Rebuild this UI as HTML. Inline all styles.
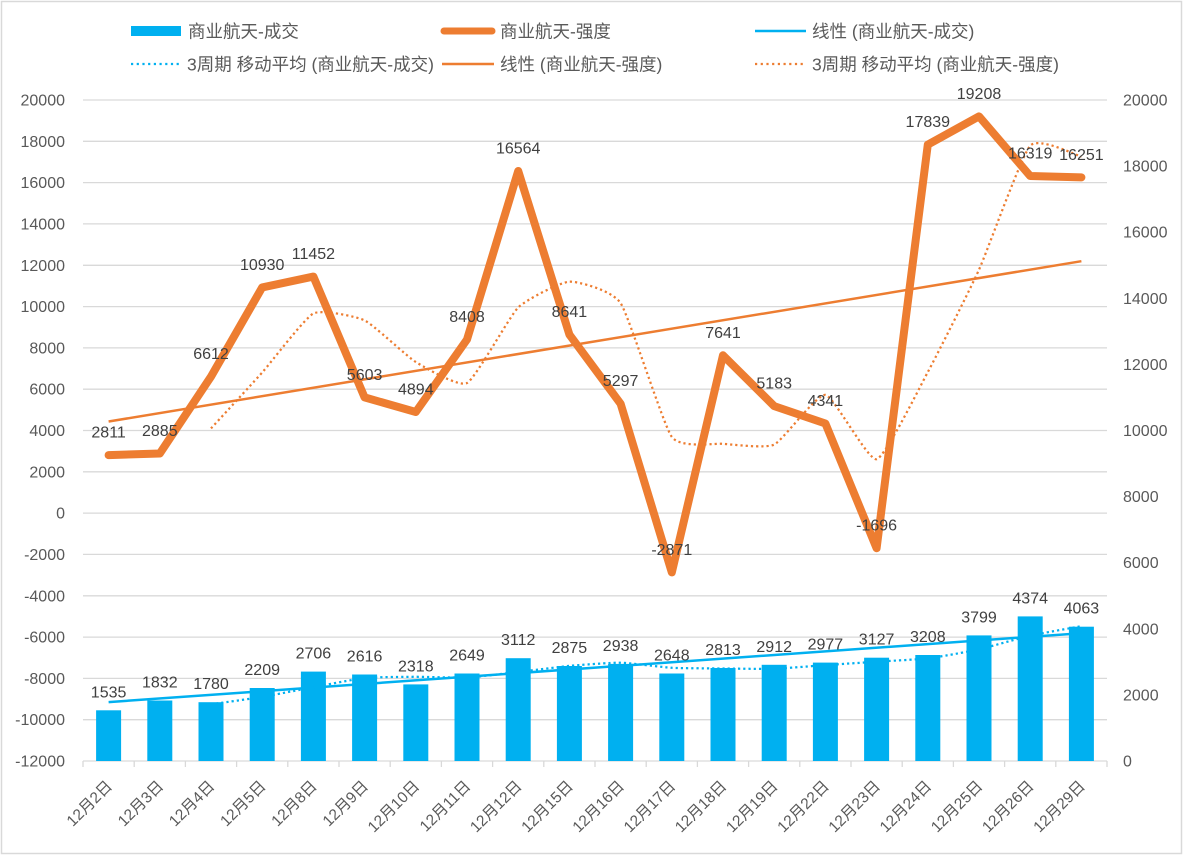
<!DOCTYPE html>
<html><head><meta charset="utf-8"><style>
html,body{margin:0;padding:0;background:#fff;}
svg{display:block;}
.ax{font-family:"Liberation Sans","Noto Sans CJK SC",sans-serif;font-size:16px;fill:#595959;}
.dl{font-family:"Liberation Sans","Noto Sans CJK SC",sans-serif;font-size:16px;fill:#404040;text-anchor:middle;}
.lg{font-family:"Liberation Sans","Noto Sans CJK SC",sans-serif;font-size:17.5px;fill:#595959;}
.xl{font-family:"Liberation Sans","Noto Sans CJK SC",sans-serif;font-size:15.5px;fill:#595959;text-anchor:end;}
</style></head><body>
<svg width="1184" height="856" viewBox="0 0 1184 856" xmlns="http://www.w3.org/2000/svg">
<rect x="0" y="0" width="1184" height="856" fill="#fff"/>
<rect x="1.5" y="1.5" width="1180" height="852" fill="none" stroke="#d9d9d9" stroke-width="1.5"/>

<!-- gridlines -->
<g stroke="#d9d9d9" stroke-width="1.3">
<line x1="83" x2="1107" y1="100" y2="100"/>
<line x1="83" x2="1107" y1="141.3" y2="141.3"/>
<line x1="83" x2="1107" y1="182.6" y2="182.6"/>
<line x1="83" x2="1107" y1="223.9" y2="223.9"/>
<line x1="83" x2="1107" y1="265.3" y2="265.3"/>
<line x1="83" x2="1107" y1="306.6" y2="306.6"/>
<line x1="83" x2="1107" y1="347.9" y2="347.9"/>
<line x1="83" x2="1107" y1="389.2" y2="389.2"/>
<line x1="83" x2="1107" y1="430.5" y2="430.5"/>
<line x1="83" x2="1107" y1="471.8" y2="471.8"/>
<line x1="83" x2="1107" y1="513.1" y2="513.1"/>
<line x1="83" x2="1107" y1="554.4" y2="554.4"/>
<line x1="83" x2="1107" y1="595.8" y2="595.8"/>
<line x1="83" x2="1107" y1="637.1" y2="637.1"/>
<line x1="83" x2="1107" y1="678.4" y2="678.4"/>
<line x1="83" x2="1107" y1="719.7" y2="719.7"/>
<line x1="83" x2="1107" y1="761" y2="761"/>
<line x1="83" x2="83" y1="761" y2="767"/>
<line x1="134.2" x2="134.2" y1="761" y2="767"/>
<line x1="185.4" x2="185.4" y1="761" y2="767"/>
<line x1="236.6" x2="236.6" y1="761" y2="767"/>
<line x1="287.8" x2="287.8" y1="761" y2="767"/>
<line x1="339" x2="339" y1="761" y2="767"/>
<line x1="390.2" x2="390.2" y1="761" y2="767"/>
<line x1="441.4" x2="441.4" y1="761" y2="767"/>
<line x1="492.6" x2="492.6" y1="761" y2="767"/>
<line x1="543.8" x2="543.8" y1="761" y2="767"/>
<line x1="595" x2="595" y1="761" y2="767"/>
<line x1="646.2" x2="646.2" y1="761" y2="767"/>
<line x1="697.4" x2="697.4" y1="761" y2="767"/>
<line x1="748.6" x2="748.6" y1="761" y2="767"/>
<line x1="799.8" x2="799.8" y1="761" y2="767"/>
<line x1="851" x2="851" y1="761" y2="767"/>
<line x1="902.2" x2="902.2" y1="761" y2="767"/>
<line x1="953.4" x2="953.4" y1="761" y2="767"/>
<line x1="1004.6" x2="1004.6" y1="761" y2="767"/>
<line x1="1055.8" x2="1055.8" y1="761" y2="767"/>
<line x1="1107" x2="1107" y1="761" y2="767"/>
</g>

<!-- left axis labels -->
<g class="ax" text-anchor="end">
<text x="65" y="105.5">20000</text>
<text x="65" y="146.8">18000</text>
<text x="65" y="188.1">16000</text>
<text x="65" y="229.4">14000</text>
<text x="65" y="270.8">12000</text>
<text x="65" y="312.1">10000</text>
<text x="65" y="353.4">8000</text>
<text x="65" y="394.7">6000</text>
<text x="65" y="436">4000</text>
<text x="65" y="477.3">2000</text>
<text x="65" y="518.6">0</text>
<text x="65" y="559.9">-2000</text>
<text x="65" y="601.3">-4000</text>
<text x="65" y="642.6">-6000</text>
<text x="65" y="683.9">-8000</text>
<text x="65" y="725.2">-10000</text>
<text x="65" y="766.5">-12000</text>
</g>
<!-- right axis labels -->
<g class="ax" text-anchor="start">
<text x="1123" y="105.5">20000</text>
<text x="1123" y="171.6">18000</text>
<text x="1123" y="237.7">16000</text>
<text x="1123" y="303.8">14000</text>
<text x="1123" y="369.9">12000</text>
<text x="1123" y="436">10000</text>
<text x="1123" y="502.1">8000</text>
<text x="1123" y="568.2">6000</text>
<text x="1123" y="634.3">4000</text>
<text x="1123" y="700.4">2000</text>
<text x="1123" y="766.5">0</text>
</g>

<!-- bars -->
<g fill="#00b0f0">
<rect x="96.1" y="710.3" width="25" height="50.7"/>
<rect x="147.3" y="700.5" width="25" height="60.5"/>
<rect x="198.5" y="702.2" width="25" height="58.8"/>
<rect x="249.7" y="688" width="25" height="73"/>
<rect x="300.9" y="671.6" width="25" height="89.4"/>
<rect x="352.1" y="674.5" width="25" height="86.5"/>
<rect x="403.3" y="684.4" width="25" height="76.6"/>
<rect x="454.5" y="673.5" width="25" height="87.5"/>
<rect x="505.7" y="658.2" width="25" height="102.8"/>
<rect x="556.9" y="666" width="25" height="95"/>
<rect x="608.1" y="663.9" width="25" height="97.1"/>
<rect x="659.3" y="673.5" width="25" height="87.5"/>
<rect x="710.5" y="668" width="25" height="93"/>
<rect x="761.7" y="664.8" width="25" height="96.2"/>
<rect x="812.9" y="662.6" width="25" height="98.4"/>
<rect x="864.1" y="657.7" width="25" height="103.3"/>
<rect x="915.3" y="655" width="25" height="106"/>
<rect x="966.5" y="635.4" width="25" height="125.6"/>
<rect x="1017.7" y="616.4" width="25" height="144.6"/>
<rect x="1068.9" y="626.7" width="25" height="134.3"/>
</g>

<!-- blue trend -->
<line x1="108.6" y1="702.1" x2="1081.4" y2="633.2" stroke="#00b0f0" stroke-width="2.5"/>
<!-- blue MA (smoothed) -->
<path fill="none" stroke="#00b0f0" stroke-width="2.25" stroke-dasharray="2.2 3"
d="M211,704.3 C215.3,703.7 253.7,698.3 262.2,696.9 C270.7,695.5 304.9,688.8 313.4,687.2 C321.9,685.6 356.1,678.9 364.6,678 C373.1,677.1 407.3,676.8 415.8,676.8 C424.3,676.8 458.5,677.9 467,677.5 C475.5,677.1 509.7,673 518.2,672 C526.7,671 560.9,666.7 569.4,665.9 C577.9,665.1 612.1,662.5 620.6,662.7 C629.1,662.9 663.3,667.3 671.8,667.8 C680.3,668.3 714.5,668.4 723,668.5 C731.5,668.6 765.7,669.1 774.2,668.8 C782.7,668.5 816.9,665.7 825.4,665.1 C833.9,664.5 868.1,662.3 876.6,661.7 C885.1,661.1 919.3,659.4 927.8,658.4 C936.3,657.4 970.5,651.3 979,649.4 C987.5,647.5 1021.7,637.5 1030.2,635.6 C1038.7,633.7 1077.1,627 1081.4,626.2"/>

<!-- orange main line -->
<polyline fill="none" stroke="#ed7d31" stroke-width="8" stroke-linejoin="round" stroke-linecap="round"
points="108.6,455.1 159.8,453.5 211,376.6 262.2,287.4 313.4,276.6 364.6,397.4 415.8,412 467,339.5 518.2,171 569.4,334.6 620.6,403.7 671.8,572.4 723,355.3 774.2,406.1 825.4,423.5 876.6,548.2 927.8,144.6 979,116.4 1030.2,176 1081.4,177.4"/>
<!-- orange trend -->
<line x1="108.6" y1="421.5" x2="1081.4" y2="261.2" stroke="#ed7d31" stroke-width="2.5"/>
<!-- orange MA (smoothed) -->
<path fill="none" stroke="#ed7d31" stroke-width="2.25" stroke-dasharray="2.2 3"
d="M211,428.4 C215.3,423.7 253.7,382.1 262.2,372.5 C270.7,362.9 304.9,317.8 313.4,313.5 C321.9,309.2 356.1,316.4 364.6,320.4 C373.1,324.4 407.3,356.8 415.8,362 C424.3,367.2 458.5,387.5 467,383 C475.5,378.5 509.7,315.9 518.2,307.5 C526.7,299.1 560.9,282.1 569.4,281.7 C577.9,281.3 612.1,290.2 620.6,303.1 C629.1,316 663.3,425.2 671.8,436.9 C680.3,448.6 714.5,443.2 723,443.8 C731.5,444.4 765.7,448.7 774.2,444.6 C782.7,440.5 816.9,393.7 825.4,394.9 C833.9,396.1 868.1,461.1 876.6,459.2 C885.1,457.3 919.3,387.9 927.8,372.1 C936.3,356.3 970.5,288.6 979,269.7 C987.5,250.8 1021.7,155.1 1030.2,145.7 C1038.7,136.3 1077.1,155.7 1081.4,156.6"/>

<!-- orange data labels -->
<g class="dl">
<text x="108.6" y="437.6">2811</text>
<text x="159.8" y="436">2885</text>
<text x="211" y="359">6612</text>
<text x="262.2" y="269.9">10930</text>
<text x="313.4" y="259.1">11452</text>
<text x="364.6" y="379.9">5603</text>
<text x="415.8" y="394.5">4894</text>
<text x="467" y="322">8408</text>
<text x="518.2" y="153.5">16564</text>
<text x="569.4" y="317.1">8641</text>
<text x="620.6" y="386.2">5297</text>
<text x="671.8" y="554.9">-2871</text>
<text x="723" y="337.8">7641</text>
<text x="774.2" y="388.6">5183</text>
<text x="825.4" y="406">4341</text>
<text x="876.6" y="530.7">-1696</text>
<text x="927.8" y="127.1">17839</text>
<text x="979" y="98.9">19208</text>
<text x="1030.2" y="158.5">16319</text>
<text x="1081.4" y="159.9">16251</text>
</g>
<!-- bar data labels -->
<g class="dl">
<text x="108.6" y="697.3">1535</text>
<text x="159.8" y="687.5">1832</text>
<text x="211" y="689.2">1780</text>
<text x="262.2" y="675">2209</text>
<text x="313.4" y="658.6">2706</text>
<text x="364.6" y="661.5">2616</text>
<text x="415.8" y="671.4">2318</text>
<text x="467" y="660.5">2649</text>
<text x="518.2" y="645.2">3112</text>
<text x="569.4" y="653">2875</text>
<text x="620.6" y="650.9">2938</text>
<text x="671.8" y="660.5">2648</text>
<text x="723" y="655">2813</text>
<text x="774.2" y="651.8">2912</text>
<text x="825.4" y="649.6">2977</text>
<text x="876.6" y="644.7">3127</text>
<text x="927.8" y="642">3208</text>
<text x="979" y="622.4">3799</text>
<text x="1030.2" y="603.4">4374</text>
<text x="1081.4" y="613.7">4063</text>
</g>

<!-- x labels -->
<g class="xl">
<text transform="translate(113.1,787) rotate(-45)">12月2日</text>
<text transform="translate(164.3,787) rotate(-45)">12月3日</text>
<text transform="translate(215.5,787) rotate(-45)">12月4日</text>
<text transform="translate(266.7,787) rotate(-45)">12月5日</text>
<text transform="translate(317.9,787) rotate(-45)">12月8日</text>
<text transform="translate(369.1,787) rotate(-45)">12月9日</text>
<text transform="translate(420.3,787) rotate(-45)">12月10日</text>
<text transform="translate(471.5,787) rotate(-45)">12月11日</text>
<text transform="translate(522.7,787) rotate(-45)">12月12日</text>
<text transform="translate(573.9,787) rotate(-45)">12月15日</text>
<text transform="translate(625.1,787) rotate(-45)">12月16日</text>
<text transform="translate(676.3,787) rotate(-45)">12月17日</text>
<text transform="translate(727.5,787) rotate(-45)">12月18日</text>
<text transform="translate(778.7,787) rotate(-45)">12月19日</text>
<text transform="translate(829.9,787) rotate(-45)">12月22日</text>
<text transform="translate(881.1,787) rotate(-45)">12月23日</text>
<text transform="translate(932.3,787) rotate(-45)">12月24日</text>
<text transform="translate(983.5,787) rotate(-45)">12月25日</text>
<text transform="translate(1034.7,787) rotate(-45)">12月26日</text>
<text transform="translate(1085.9,787) rotate(-45)">12月29日</text>
</g>

<!-- legend -->
<rect x="131" y="26" width="50" height="10" fill="#00b0f0"/>
<text class="lg" x="188" y="37.3">商业航天-成交</text>
<line x1="444" y1="31" x2="492" y2="31" stroke="#ed7d31" stroke-width="7" stroke-linecap="round"/>
<text class="lg" x="500" y="37.3">商业航天-强度</text>
<line x1="755" y1="31" x2="806" y2="31" stroke="#00b0f0" stroke-width="2.5"/>
<text class="lg" x="812" y="37.3">线性 (商业航天-成交)</text>

<line x1="131" y1="64" x2="181" y2="64" stroke="#00b0f0" stroke-width="2.25" stroke-dasharray="2.2 3.5"/>
<text class="lg" x="187" y="70.3">3周期 移动平均 (商业航天-成交)</text>
<line x1="442" y1="64" x2="494" y2="64" stroke="#ed7d31" stroke-width="2.5"/>
<text class="lg" x="500" y="70.3">线性 (商业航天-强度)</text>
<line x1="755" y1="64" x2="806" y2="64" stroke="#ed7d31" stroke-width="2.25" stroke-dasharray="2.2 3.5"/>
<text class="lg" x="812" y="70.3">3周期 移动平均 (商业航天-强度)</text>
</svg>
</body></html>
